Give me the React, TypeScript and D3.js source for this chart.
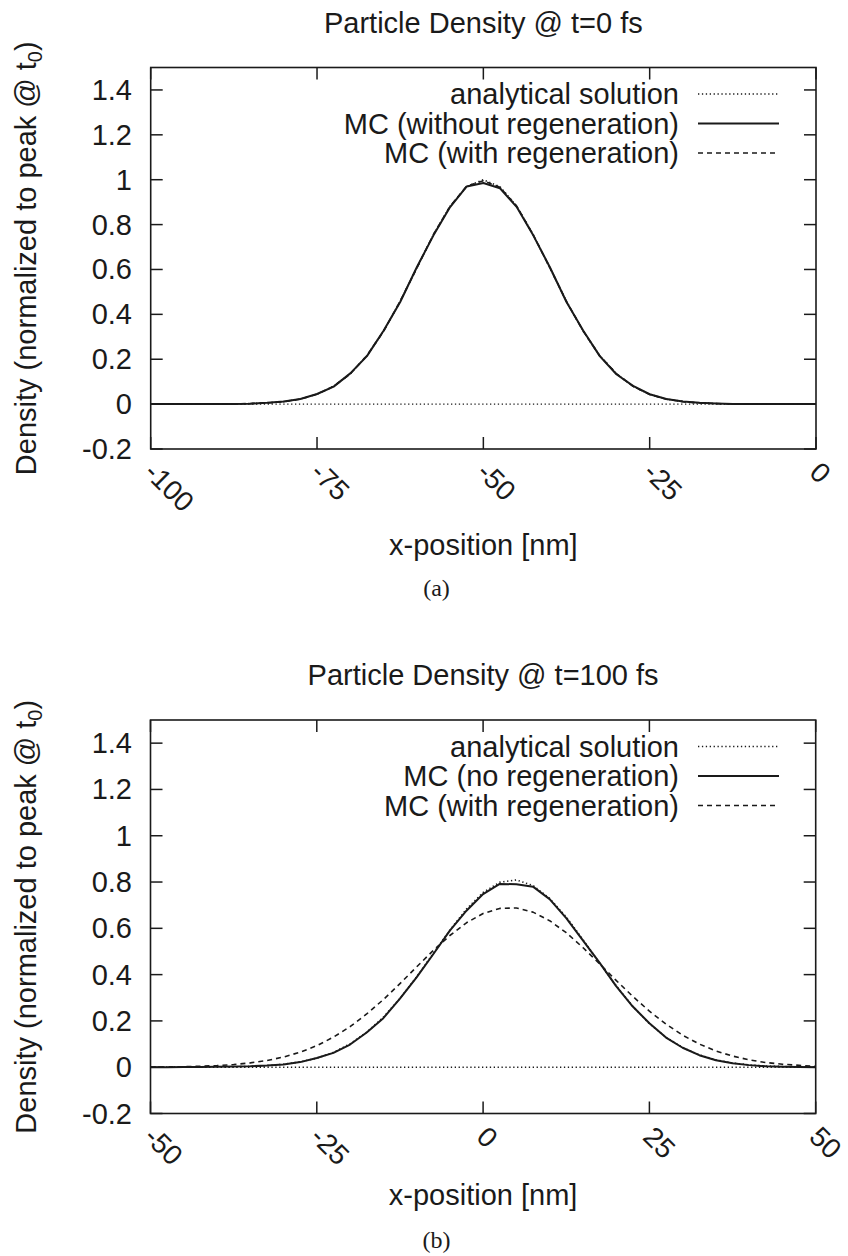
import React from 'react';
import * as d3 from 'd3';

// ---------- Data ----------
const xPosA = [-100, -97.5, -95, -92.5, -90, -87.5, -85, -82.5, -80, -77.5, -75, -72.5, -70, -67.5, -65, -62.5, -60, -57.5, -55, -52.5, -50, -47.5, -45, -42.5, -40, -37.5, -35, -32.5, -30, -27.5, -25, -22.5, -20, -17.5, -15, -12.5, -10, -7.5, -5, -2.5, 0];
const analyticA = [0, 0, 0, 0, 0.0003, 0.0009, 0.0022, 0.0051, 0.0111, 0.0228, 0.0439, 0.0796, 0.135, 0.216, 0.325, 0.458, 0.607, 0.755, 0.882, 0.969, 1.0, 0.969, 0.882, 0.755, 0.607, 0.458, 0.325, 0.216, 0.135, 0.0796, 0.0439, 0.0228, 0.0111, 0.0051, 0.0022, 0.0009, 0.0003, 0, 0, 0, 0];
const mcNoRegenA = [0, 0, 0, 0, 0, 0.001, 0.002, 0.006, 0.012, 0.023, 0.045, 0.078, 0.137, 0.214, 0.327, 0.455, 0.61, 0.752, 0.878, 0.97, 0.985, 0.962, 0.879, 0.752, 0.61, 0.455, 0.328, 0.214, 0.133, 0.081, 0.044, 0.023, 0.012, 0.006, 0.003, 0.001, 0, 0, 0, 0, 0];
const mcRegenA = [0, 0, 0, 0, 0, 0.001, 0.003, 0.005, 0.011, 0.022, 0.044, 0.08, 0.134, 0.217, 0.324, 0.459, 0.606, 0.756, 0.881, 0.972, 0.995, 0.966, 0.883, 0.754, 0.608, 0.457, 0.326, 0.215, 0.136, 0.079, 0.043, 0.022, 0.011, 0.005, 0.002, 0.001, 0, 0, 0, 0, 0];

const xPosB = [-50, -47.5, -45, -42.5, -40, -37.5, -35, -32.5, -30, -27.5, -25, -22.5, -20, -17.5, -15, -12.5, -10, -7.5, -5, -2.5, 0, 2.5, 5, 7.5, 10, 12.5, 15, 17.5, 20, 22.5, 25, 27.5, 30, 32.5, 35, 37.5, 40, 42.5, 45, 47.5, 50];
const analyticB = [0, 0.0001, 0.0002, 0.0004, 0.0008, 0.0018, 0.0036, 0.007, 0.013, 0.023, 0.039, 0.064, 0.101, 0.151, 0.216, 0.297, 0.39, 0.491, 0.592, 0.683, 0.755, 0.799, 0.809, 0.785, 0.729, 0.649, 0.552, 0.45, 0.352, 0.263, 0.188, 0.129, 0.085, 0.053, 0.032, 0.018, 0.01, 0.005, 0.003, 0.0013, 0.0006];
const mcNoRegenB = [0, 0, 0.001, 0.001, 0.002, 0.003, 0.004, 0.007, 0.012, 0.022, 0.04, 0.062, 0.098, 0.15, 0.212, 0.296, 0.388, 0.488, 0.59, 0.676, 0.748, 0.792, 0.79, 0.78, 0.726, 0.644, 0.548, 0.452, 0.35, 0.262, 0.19, 0.128, 0.084, 0.052, 0.03, 0.017, 0.009, 0.004, 0.002, 0.001, 0];
const mcRegenB = [0.0007, 0.0013, 0.0023, 0.004, 0.0069, 0.0115, 0.0186, 0.029, 0.044, 0.065, 0.093, 0.13, 0.175, 0.23, 0.292, 0.361, 0.433, 0.504, 0.569, 0.624, 0.664, 0.686, 0.688, 0.67, 0.633, 0.581, 0.517, 0.447, 0.375, 0.306, 0.242, 0.186, 0.138, 0.1, 0.07, 0.048, 0.032, 0.02, 0.013, 0.008, 0.004];

const yTicks = [-0.2, 0, 0.2, 0.4, 0.6, 0.8, 1, 1.2, 1.4];
const xTicksA = [-100, -75, -50, -25, 0];
const xTicksB = [-50, -25, 0, 25, 50];
const legendA = ['analytical solution', 'MC (without regeneration)', 'MC (with regeneration)'];
const legendB = ['analytical solution', 'MC (no regeneration)', 'MC (with regeneration)'];
const titles = ['Particle Density @ t=0 fs', 'Particle Density @ t=100 fs'];
const captions = ['(a)', '(b)'];

// ---------- Styles ----------
const FONT = '"Liberation Sans", Arial, Helvetica, sans-serif';
const INK = '#1a1a1a';
const seriesStyles = [
  { dash: '1.3,2.6', width: 1.6 },
  { dash: 'none', width: 2 },
  { dash: '5,4', width: 1.6 },
];

type PanelProps = {
  top: number; bottom: number; left: number; right: number;
  xDomain: [number, number]; xTicks: number[]; xs: number[];
  series: number[][]; legend: string[]; title: string; caption: string;
  titleY: number; xLabelY: number; captionY: number;
};

function fmt(v: number) {
  return d3.format('~g')(v).replace('−', '-');
}

function Panel(p: PanelProps) {
  const x = d3.scaleLinear().domain(p.xDomain).range([p.left, p.right]);
  const y = d3.scaleLinear().domain([-0.2, 1.5]).range([p.bottom, p.top]);
  const line = d3.line<[number, number]>().x(d => x(d[0])).y(d => y(d[1]));
  const tick = 12;
  const cy = (p.top + p.bottom) / 2;
  const cx = (p.left + p.right) / 2;
  return (
    <g>
      <text x={cx} y={p.titleY} textAnchor="middle" fontFamily={FONT} fontSize={29} fill={INK}>{p.title}</text>
      {/* y label */}
      <text transform={`translate(36, ${cy}) rotate(-90)`} textAnchor="middle" fontFamily={FONT} fontSize={29} fill={INK}>
        Density (normalized to peak @ t<tspan fontSize={20} dy={6}>0</tspan><tspan dy={-6}>)</tspan>
      </text>
      {/* zero axis */}
      <line x1={p.left} x2={p.right} y1={y(0)} y2={y(0)} stroke={INK} strokeWidth={1.4} strokeDasharray="1.3,2.6" />
      {/* curves */}
      {p.series.map((s, i) => (
        <path key={i} d={line(p.xs.map((xv, j) => [xv, s[j]] as [number, number])) || ''} fill="none"
          stroke={INK} strokeWidth={seriesStyles[i].width} strokeDasharray={seriesStyles[i].dash} strokeLinejoin="round" />
      ))}
      {/* y ticks */}
      {yTicks.map(t => (
        <g key={t}>
          <line x1={p.left} x2={p.left + tick} y1={y(t)} y2={y(t)} stroke={INK} strokeWidth={1.5} />
          <line x1={p.right} x2={p.right - tick} y1={y(t)} y2={y(t)} stroke={INK} strokeWidth={1.5} />
          <text x={132} y={y(t) + 10} textAnchor="end" fontFamily={FONT} fontSize={29} fill={INK}>{fmt(t)}</text>
        </g>
      ))}
      {/* x ticks */}
      {p.xTicks.map(t => (
        <g key={t}>
          <line x1={x(t)} x2={x(t)} y1={p.bottom} y2={p.bottom - tick} stroke={INK} strokeWidth={1.5} />
          <line x1={x(t)} x2={x(t)} y1={p.top} y2={p.top + tick} stroke={INK} strokeWidth={1.5} />
          <text transform={`translate(${x(t) - 8}, ${p.bottom + 25}) rotate(45)`} fontFamily={FONT} fontSize={28} fill={INK}>{fmt(t)}</text>
        </g>
      ))}
      {/* frame */}
      <rect x={p.left} y={p.top} width={p.right - p.left} height={p.bottom - p.top} fill="none" stroke={INK} strokeWidth={1.6} />
      {/* legend */}
      {p.legend.map((lab, i) => {
        const ly = p.top + 26.5 + i * 29.5;
        return (
          <g key={lab}>
            <text x={679} y={ly + 10} textAnchor="end" fontFamily={FONT} fontSize={29} fill={INK}>{lab}</text>
            <line x1={698} x2={779} y1={ly} y2={ly} stroke={INK} strokeWidth={seriesStyles[i].width} strokeDasharray={seriesStyles[i].dash} />
          </g>
        );
      })}
      <text x={cx} y={p.xLabelY} textAnchor="middle" fontFamily={FONT} fontSize={29} fill={INK}>x-position [nm]</text>
      <text x={436.5} y={p.captionY} textAnchor="middle" fontFamily='"Liberation Serif", "DejaVu Serif", serif' fontSize={24} fill={INK}>{p.caption}</text>
    </g>
  );
}

export default function App() {
  return (
    <svg width={848} height={1256} style={{ position: 'absolute', left: 0, top: 0, background: '#fff' }}>
      <rect width={848} height={1256} fill="#fff" />
      <Panel top={67.5} bottom={449} left={150.7} right={816} xDomain={[-100, 0]} xTicks={xTicksA} xs={xPosA}
        series={[analyticA, mcNoRegenA, mcRegenA]} legend={legendA} title={titles[0]} caption={captions[0]}
        titleY={33} xLabelY={555} captionY={596} />
      <Panel top={720} bottom={1113.5} left={150.5} right={815.7} xDomain={[-50, 50]} xTicks={xTicksB} xs={xPosB}
        series={[analyticB, mcNoRegenB, mcRegenB]} legend={legendB} title={titles[1]} caption={captions[1]}
        titleY={685} xLabelY={1205} captionY={1248} />
    </svg>
  );
}
